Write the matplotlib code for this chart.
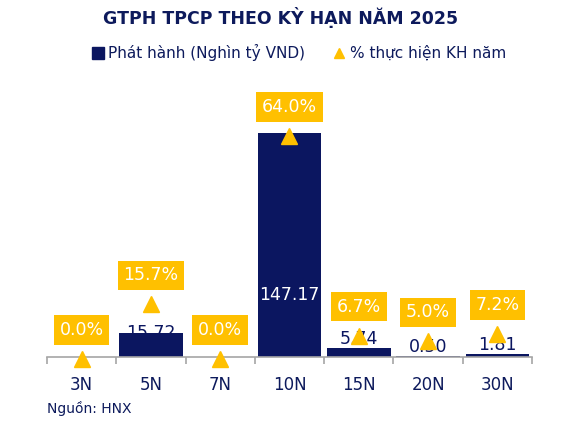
import numpy as np
import matplotlib
matplotlib.use("Agg")
from matplotlib import pyplot as plt
from matplotlib.lines import Line2D

plt.rcParams["font.family"] = ["DejaVu Sans"]

terms = ["3N", "5N", "7N", "10N", "15N", "20N", "30N"]
issued = [0.0, 15.72, 0.0, 147.17, 5.74, 0.50, 1.81]
issued_labels = ["", "15.72", "", "147.17", "5.74", "0.50", "1.81"]
pct_plan = [0.0, 15.7, 0.0, 64.0, 6.7, 5.0, 7.2]

navy = "#0B1660"
yellow = "#FFC000"
text_col = "#0D1A5C"

fig = plt.figure(figsize=(5.86, 4.30), dpi=100)
ax = fig.add_axes([0.080, 0.170, 0.828, 0.621])
ax2 = ax.twinx()

x = np.arange(len(terms))
ax.bar(x, issued, width=0.92, color=navy, zorder=2)
ax.set_xlim(-0.5, len(terms) - 0.5)
ax.set_ylim(0, 175.4)
ax2.set_ylim(0.57, 77.3)

# bar value labels
for i, (v, lab) in enumerate(zip(issued, issued_labels)):
    if not lab:
        continue
    if v > 100:
        ax.annotate(lab, (i, 0), xytext=(0, 62), textcoords="offset pixels",
                    ha="center", va="center", color="white", fontsize=12.5, zorder=3)
    elif v > 10:
        ax.annotate(lab, (i, v), xytext=(0, 0), textcoords="offset pixels",
                    ha="center", va="center", color=navy, fontsize=12.5, zorder=1)
    else:
        ax.annotate(lab, (i, v), xytext=(0, 9), textcoords="offset pixels",
                    ha="center", va="center", color=navy, fontsize=12.5, zorder=3)

# % plan markers and boxed labels
ax2.plot(x, pct_plan, linestyle="none", marker="^", markersize=11,
         color=yellow, zorder=4, clip_on=False)
for i, p in enumerate(pct_plan):
    ax2.annotate(f"{p:.1f}%", (i, p), xytext=(0, 29), textcoords="offset pixels",
                 ha="center", va="center", color="white", fontsize=12.5,
                 bbox=dict(boxstyle="square,pad=0.33", fc=yellow, ec="none"),
                 zorder=5, annotation_clip=False)

for a in (ax, ax2):
    for s in ("top", "left", "right"):
        a.spines[s].set_visible(False)
    a.set_yticks([])
ax2.spines["bottom"].set_visible(False)
ax.spines["bottom"].set_color("#A6A6A6")
ax.spines["bottom"].set_linewidth(1.2)

ax.set_xticks(x)
ax.set_xticklabels(terms, color=text_col, fontsize=12)
ax.tick_params(axis="x", which="major", length=0, pad=14)
ax.set_xticks(np.arange(-0.5, len(terms)), minor=True)
ax.tick_params(axis="x", which="minor", length=5, width=1.2, color="#A6A6A6")

fig.text(0.479, 0.960, "GTPH TPCP THEO KỲ HẠN NĂM 2025", ha="center", va="center",
         fontsize=12.5, fontweight="bold", color=text_col)

handles = [Line2D([], [], linestyle="none", marker="s", markersize=8, color=navy),
           Line2D([], [], linestyle="none", marker="^", markersize=7, color=yellow)]
fig.legend(handles, ["Phát hành (Nghìn tỷ VND)", "% thực hiện KH năm"],
           loc="center", bbox_to_anchor=(0.51, 0.878), ncol=2, frameon=False,
           fontsize=11, labelcolor=text_col, handlelength=0.8, handletextpad=0.3,
           columnspacing=1.8)

fig.text(0.080, 0.050, "Nguồn: HNX", ha="left", va="center", fontsize=10,
         color=text_col)

fig.savefig("out.png", dpi=100)
